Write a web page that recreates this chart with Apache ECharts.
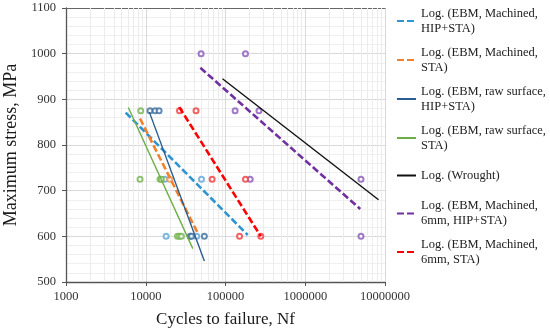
<!DOCTYPE html>
<html>
<head>
<meta charset="utf-8">
<script src="https://cdn.jsdelivr.net/npm/echarts@6/dist/echarts.min.js"></script>
<style>html,body{margin:0;padding:0;background:#fff}#c{width:550px;height:336px}</style>
</head>
<body>
<div id="c"></div>
<script>
// ---- data (cycles to failure, stress MPa) ----
const machHipN = [17400, 50000, 18000, 43600];
const machHipS = [725, 725, 600, 600];
const machStaN = [20000];
const machStaS = [725];
const rawHipN = [11300, 13100, 14700, 36000, 37500, 54300];
const rawHipS = [875, 875, 875, 600, 600, 600];
const rawStaN = [8650, 8480, 15100, 15700, 25000, 26500, 28000];
const rawStaS = [875, 725, 725, 725, 600, 600, 600];
const mm6HipN = [49400, 178000, 132000, 263000, 204000, 5000000, 5000000];
const mm6HipS = [1000, 1000, 875, 875, 725, 725, 600];
const mm6StaN = [26500, 42700, 68000, 178000, 150000, 277000];
const mm6StaS = [875, 875, 725, 725, 600, 600];

// trend line end points [cycles, stress]
const trendMachHip = [[5600, 871], [190000, 603]];
const trendMachSta = [[8470, 858], [44900, 607]];
const trendRawHip = [[11100, 872], [54300, 546]];
const trendRawSta = [[6050, 882], [38900, 573]];
const trendWrought = [[91700, 945], [8300000, 680]];
const trend6Hip = [[48400, 969], [4890000, 660]];
const trend6Sta = [[26300, 883], [277000, 600]];

const legendNames = [
  'Log. (EBM, Machined, HIP+STA)',
  'Log. (EBM, Machined, STA)',
  'Log. (EBM, raw surface, HIP+STA)',
  'Log. (EBM, raw surface, STA)',
  'Log. (Wrought)',
  'Log. (EBM, Machined, 6mm, HIP+STA)',
  'Log. (EBM, Machined, 6mm, STA)'
];
const legendText = [
  'Log. (EBM, Machined,\nHIP+STA)',
  'Log. (EBM, Machined,\nSTA)',
  'Log. (EBM, raw surface,\nHIP+STA)',
  'Log. (EBM, raw surface,\nSTA)',
  'Log. (Wrought)',
  'Log. (EBM, Machined,\n6mm, HIP+STA)',
  'Log. (EBM, Machined,\n6mm, STA)'
];

const C = {
  lb: '#2E95D3', or: '#F0822E', db: '#2A5C90', gr: '#6DAE47',
  bk: '#111111', pu: '#7030A0', rd: '#FF0000'
};
const P = {
  lb: '#5FA5D8', or: '#F0904A', db: '#3C6E9E', gr: '#74B350',
  pu: '#8A58B8', rd: '#F03A3A'
};

function pts(n, s) { return n.map((v, i) => [v, s[i]]); }
function scatter(n, s, col) {
  return {
    type: 'scatter', data: pts(n, s), symbol: 'emptyCircle', symbolSize: 5,
    itemStyle: { color: col, borderColor: col, borderWidth: 1 }, z: 3, silent: true
  };
}
function trend(name, d, col, dashed) {
  return {
    type: 'line', name: name, data: d, symbol: 'none', z: 4, silent: true,
    lineStyle: { color: col, width: dashed ? 2.6 : 1.4, type: dashed ? [7, 3] : 'solid', cap: 'butt' },
    itemStyle: { color: col }
  };
}

// minor log grid positions
const minorX = [];
for (let d = 1000; d < 10000000; d *= 10) for (let k = 2; k <= 9; k++) minorX.push({ xAxis: d * k });

const serif = 'Liberation Serif, Times New Roman, serif';
const legendIconY = [21, 60, 99, 138, 175.5, 213.5, 252];
const legends = legendNames.map((n, i) => {
  const twoLine = legendText[i].indexOf('\n') >= 0;
  return {
    orient: 'vertical', left: 396, top: legendIconY[i] - (twoLine ? 22.5 : 7.5), padding: 0,
    itemWidth: 19, itemHeight: 10,
    data: [n],
    formatter: () => legendText[i],
    itemStyle: { opacity: 0 },
    textStyle: { fontFamily: serif, fontSize: 12.5, color: '#222', lineHeight: 15,
      padding: twoLine ? [15, 0, 0, 0] : 0 },
    selectedMode: false
  };
});

const chart = echarts.init(document.getElementById('c'), null, { renderer: 'canvas' });
chart.setOption({
  animation: false,
  grid: { left: 66, right: 165, top: 8, bottom: 54, outerBoundsMode: 'none', containLabel: false },
  xAxis: [{
    type: 'log', logBase: 10, min: 1000, max: 10000000,
    name: 'Cycles to failure, Nf', nameLocation: 'middle', nameGap: 29,
    nameTextStyle: { fontFamily: serif, fontSize: 17, color: '#1a1a1a' },
    axisLine: { show: true, lineStyle: { color: '#555', width: 1.3 } },
    axisTick: { show: true, length: 4, inside: false, lineStyle: { color: '#555' } },
    axisLabel: { fontFamily: serif, fontSize: 12.5, color: '#333', margin: 8,
      formatter: v => String(Math.round(v)) },
    splitLine: { show: true, lineStyle: { color: '#d9d9d9', width: 1 } },
    minorTick: { show: false }, minorSplitLine: { show: false }
  }, {
    type: 'log', logBase: 10, min: 1000, max: 10000000, position: 'top',
    axisLine: { show: true, lineStyle: { color: '#666', width: 1 } },
    axisTick: { show: false }, axisLabel: { show: false }, splitLine: { show: false }
  }],
  yAxis: {
    type: 'value', min: 500, max: 1100, interval: 100,
    name: 'Maximum stress, MPa', nameLocation: 'middle', nameGap: 40,
    nameTextStyle: { fontFamily: serif, fontSize: 18, color: '#1a1a1a' },
    axisLine: { show: true, lineStyle: { color: '#555', width: 1.3 } },
    axisTick: { show: true, length: 4, inside: false, lineStyle: { color: '#555' } },
    axisLabel: { fontFamily: serif, fontSize: 12.5, color: '#333', margin: 10,
      formatter: v => String(v) },
    splitLine: { show: true, lineStyle: { color: '#d9d9d9', width: 1 } },
    minorTick: { show: false, splitNumber: 5 },
    minorSplitLine: { show: true, lineStyle: { color: '#efefef', width: 1 } }
  },
  legend: legends,
  series: [
    {
      type: 'line', data: [], z: 1, silent: true,
      markLine: { z: 1, silent: true, symbol: ['none', 'none'], label: { show: false },
        lineStyle: { color: '#ececec', width: 1, type: 'solid' }, data: minorX, animation: false }
    },
    scatter(machHipN, machHipS, P.lb),
    scatter(machStaN, machStaS, P.or),
    scatter(rawHipN, rawHipS, P.db),
    scatter(rawStaN, rawStaS, P.gr),
    scatter(mm6HipN, mm6HipS, P.pu),
    scatter(mm6StaN, mm6StaS, P.rd),
    trend(legendNames[0], trendMachHip, C.lb, true),
    trend(legendNames[1], trendMachSta, C.or, true),
    trend(legendNames[2], trendRawHip, C.db, false),
    trend(legendNames[3], trendRawSta, C.gr, false),
    trend(legendNames[4], trendWrought, C.bk, false),
    trend(legendNames[5], trend6Hip, C.pu, true),
    trend(legendNames[6], trend6Sta, C.rd, true)
  ]
});
</script>
</body>
</html>
